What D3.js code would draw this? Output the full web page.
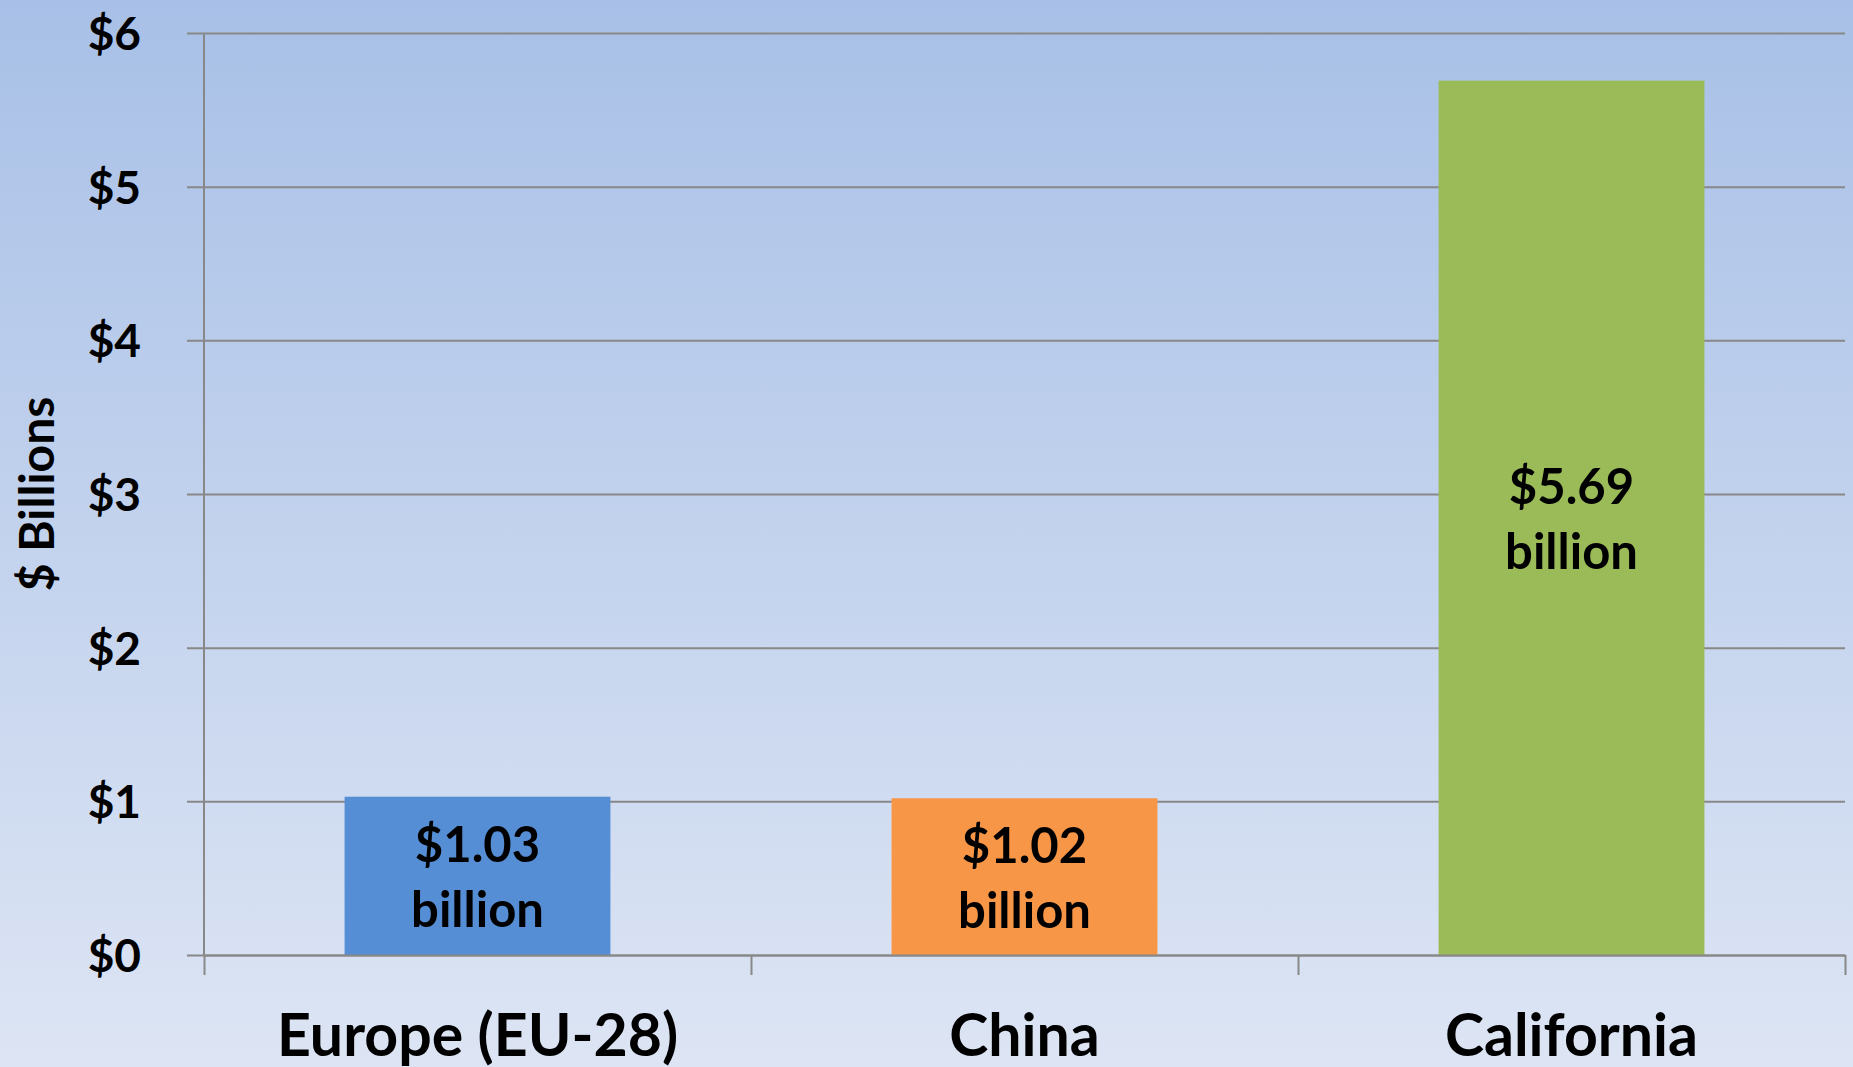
<!DOCTYPE html>
<html>
  <head>
  <title>Bars</title>
  <style>
    body, html {
      margin: 0;
      padding: 0;
      overflow: hidden;
    }
    #svg text {
      font-family: Lato, "Open Sans", sans-serif;
      font-weight: bold;
      fill: #000;
    }
  </style>
  </head>
  <body>

  <svg id="svg" width="1853" height="1067"></svg>

  <script src="https://d3js.org/d3.v7.min.js"></script>
  <script>
    const regions = ['Europe (EU-28)', 'China', 'California']
    const billions = [1.03, 1.02, 5.69]
    const barColors = ['#558ed5', '#f79646', '#9bbb59']
    const yTicks = [0, 1, 2, 3, 4, 5, 6]

    const margin = { top: 33, right: 8, bottom: 112, left: 204 }
    const width = 1853 - (margin.left + margin.right)
    const height = 1067 - (margin.top + margin.bottom)

    const svg = d3.select('#svg')

    const grad = svg.append('defs')
      .append('linearGradient')
      .attr('id', 'bg')
      .attr('x1', 0).attr('y1', 0).attr('x2', 0).attr('y2', 1)
    grad.append('stop').attr('offset', 0).attr('stop-color', '#a8c0e7')
    grad.append('stop').attr('offset', 1).attr('stop-color', '#dde5f4')

    svg.append('rect')
      .attr('width', 1853)
      .attr('height', 1067)
      .attr('fill', 'url(#bg)')

    const xscale = d3.scaleBand()
      .domain(regions)
      .range([0, width])
      .paddingInner(0.514)
      .paddingOuter(0.257)

    const yscale = d3.scaleLinear()
      .domain([0, 6])
      .range([height, 0])

    const chart = svg.append('g')
      .attr('transform', `translate(${margin.left}, ${margin.top})`)

    // gridlines + y labels
    const leftAxis = d3.axisLeft(yscale)
      .tickValues(yTicks)
      .tickSize(-width)
      .tickPadding(63)
      .tickFormat(d => '$' + d)

    const yg = chart.append('g').call(leftAxis)
    yg.select('.domain').remove()
    yg.selectAll('.tick line')
      .attr('x1', -17)
      .attr('stroke', '#888888')
      .attr('stroke-width', 2)
    yg.selectAll('.tick text')
      .attr('font-size', 46)
      .attr('dy', '0.36em')

    // bars
    chart.append('g')
      .selectAll('rect')
      .data(billions)
      .enter()
      .append('rect')
      .attr('x', (d, i) => xscale(regions[i]))
      .attr('y', d => yscale(d))
      .attr('width', xscale.bandwidth())
      .attr('height', d => height - yscale(d))
      .attr('fill', (d, i) => barColors[i])

    // value labels
    const labels = chart.append('g')
      .selectAll('text')
      .data(billions)
      .enter()
      .append('text')
      .attr('text-anchor', 'middle')
      .attr('font-size', 49)
      .attr('transform', (d, i) => {
        const cx = xscale(regions[i]) + xscale.bandwidth() / 2
        const cy = (yscale(d) + height) / 2
        return `translate(${cx}, ${cy})`
      })
    labels.append('tspan')
      .attr('x', 0)
      .attr('y', -14)
      .text(d => '$' + d.toFixed(2))
    labels.append('tspan')
      .attr('x', 0)
      .attr('y', 51)
      .text('billion')

    // left axis line and category boundary ticks
    const bounds = d3.scaleLinear().domain([0, regions.length]).range([0, width])
    const bottomTicks = d3.axisBottom(bounds)
      .tickValues(d3.range(regions.length + 1))
      .tickSize(20)
      .tickSizeOuter(0)
      .tickFormat('')
    const bg = chart.append('g')
      .attr('transform', `translate(0, ${height})`)
      .call(bottomTicks)
    bg.selectAll('line, path')
      .attr('stroke', '#888888')
      .attr('stroke-width', 2)

    chart.append('line')
      .attr('x1', 0).attr('x2', 0)
      .attr('y1', 0).attr('y2', height)
      .attr('stroke', '#888888')
      .attr('stroke-width', 2)

    // category labels
    const bottomAxis = d3.axisBottom(xscale).tickSize(0)
    const cg = chart.append('g')
      .attr('transform', `translate(0, ${height})`)
      .call(bottomAxis)
    cg.select('.domain').remove()
    cg.selectAll('.tick text')
      .attr('font-size', 59)
      .attr('dy', null)
      .attr('y', 101)

    // y axis title
    svg.append('text')
      .attr('transform', 'translate(54, 494) rotate(-90)')
      .attr('text-anchor', 'middle')
      .attr('font-size', 48)
      .text('$ Billions')
  </script>
  </body>
</html>
